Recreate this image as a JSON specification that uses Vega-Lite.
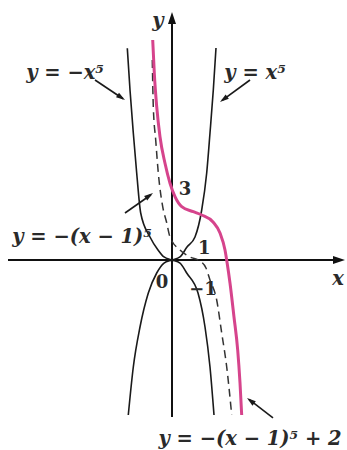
{
  "$schema": "https://vega.github.io/schema/vega-lite/v6.json",
  "width": 347,
  "height": 450,
  "padding": 0,
  "autosize": {"type": "fit", "contains": "padding"},
  "background": "white",
  "config": {"view": {"stroke": null}},
  "datasets": {
    "curves": [
      {"s": "p", "x": -1.561, "y": -6.652}, {"s": "p", "x": -1.382, "y": -4.592}, {"s": "p", "x": -1.143, "y": -2.876},
      {"s": "p", "x": -0.846, "y": -1.416}, {"s": "p", "x": -0.546, "y": -0.558}, {"s": "p", "x": -0.286, "y": -0.13},
      {"s": "p", "x": 0, "y": 0}, {"s": "p", "x": 0.286, "y": 0.13}, {"s": "p", "x": 0.536, "y": 0.558},
      {"s": "p", "x": 0.821, "y": 0.987}, {"s": "p", "x": 1.061, "y": 2.146}, {"s": "p", "x": 1.239, "y": 3.734},
      {"s": "p", "x": 1.357, "y": 5.451}, {"s": "p", "x": 1.475, "y": 7.296}, {"s": "p", "x": 1.571, "y": 9.099},
      {"s": "n", "x": -1.596, "y": 9.086}, {"s": "n", "x": -1.5, "y": 7.296}, {"s": "n", "x": -1.382, "y": 5.451},
      {"s": "n", "x": -1.261, "y": 3.734}, {"s": "n", "x": -1.118, "y": 2.017}, {"s": "n", "x": -0.786, "y": 0.987},
      {"s": "n", "x": -0.5, "y": 0.43}, {"s": "n", "x": -0.286, "y": 0.13}, {"s": "n", "x": 0, "y": 0},
      {"s": "n", "x": 0.286, "y": -0.13}, {"s": "n", "x": 0.525, "y": -0.558}, {"s": "n", "x": 0.929, "y": -1.416},
      {"s": "n", "x": 1.179, "y": -2.876}, {"s": "n", "x": 1.357, "y": -4.592}, {"s": "n", "x": 1.5, "y": -6.652},
      {"s": "d", "x": -0.704, "y": 8.584}, {"s": "d", "x": -0.668, "y": 6.579}, {"s": "d", "x": -0.582, "y": 5.15},
      {"s": "d", "x": -0.489, "y": 3.734}, {"s": "d", "x": -0.332, "y": 2.288}, {"s": "d", "x": -0.196, "y": 1.631},
      {"s": "d", "x": -0.071, "y": 0.987}, {"s": "d", "x": 0.286, "y": 0.429}, {"s": "d", "x": 0.643, "y": 0.129},
      {"s": "d", "x": 1.0, "y": -0.043}, {"s": "d", "x": 1.214, "y": -0.343}, {"s": "d", "x": 1.357, "y": -0.858},
      {"s": "d", "x": 1.596, "y": -1.717}, {"s": "d", "x": 1.775, "y": -3.133}, {"s": "d", "x": 1.954, "y": -4.592},
      {"s": "d", "x": 2.132, "y": -6.652},
      {"s": "k", "x": -0.689, "y": 9.442}, {"s": "k", "x": -0.632, "y": 8.013}, {"s": "k", "x": -0.546, "y": 6.579},
      {"s": "k", "x": -0.429, "y": 5.292}, {"s": "k", "x": -0.25, "y": 4.15}, {"s": "k", "x": -0.071, "y": 3.292},
      {"s": "k", "x": 0.107, "y": 2.717}, {"s": "k", "x": 0.346, "y": 2.288}, {"s": "k", "x": 0.761, "y": 2.073},
      {"s": "k", "x": 1.061, "y": 1.931}, {"s": "k", "x": 1.464, "y": 1.631}, {"s": "k", "x": 1.714, "y": 1.159},
      {"s": "k", "x": 1.893, "y": 0.429}, {"s": "k", "x": 1.964, "y": -0.086}, {"s": "k", "x": 2.071, "y": -0.987},
      {"s": "k", "x": 2.214, "y": -2.446}, {"s": "k", "x": 2.346, "y": -3.863}, {"s": "k", "x": 2.429, "y": -5.279},
      {"s": "k", "x": 2.489, "y": -6.652}
    ],
    "rules": [
      {"id": "xaxis", "x": -5.857, "y": 0, "x2": 5.9, "y2": 0},
      {"id": "yaxis", "x": 0, "y": -6.738, "x2": 0, "y2": 10.2},
      {"id": "a1", "x": -2.75, "y": 7.725, "x2": -1.75, "y2": 6.92},
      {"id": "a2", "x": 2.786, "y": 7.725, "x2": 1.79, "y2": 6.85},
      {"id": "a3", "x": -1.679, "y": 2.017, "x2": -0.75, "y2": 2.8},
      {"id": "a4", "x": 3.607, "y": -6.781, "x2": 2.75, "y2": -5.98}
    ],
    "heads": [
      {"id": "xaxis", "x": 6.179, "y": 0},
      {"id": "yaxis", "x": 0, "y": 10.644},
      {"id": "a1", "x": -1.679, "y": 6.867},
      {"id": "a2", "x": 1.714, "y": 6.781},
      {"id": "a3", "x": -0.679, "y": 2.876},
      {"id": "a4", "x": 2.679, "y": -5.923}
    ],
    "eqs": [
      {"t": "y = −x⁵", "x": -3.821, "y": 7.768},
      {"t": "y = x⁵", "x": 2.964, "y": 7.768},
      {"t": "y = −(x − 1)⁵", "x": -3.214, "y": 0.73},
      {"t": "y = −(x − 1)⁵ + 2", "x": 2.786, "y": -7.94},
      {"t": "y", "x": -0.5, "y": 10.0},
      {"t": "x", "x": 5.93, "y": -1.07}
    ],
    "nums": [
      {"t": "3", "x": 0.464, "y": 2.79},
      {"t": "1", "x": 1.15, "y": 0.258},
      {"t": "0", "x": -0.357, "y": -1.2},
      {"t": "−1", "x": 1.107, "y": -1.5}
    ]
  },
  "layer": [
    {
      "data": {"name": "rules"},
      "transform": [{"filter": "datum.id == 'xaxis' || datum.id == 'yaxis'"}],
      "mark": {"type": "rule", "color": "#111111", "strokeWidth": 2},
      "encoding": {
        "x": {"field": "x", "type": "quantitative", "scale": {"domain": [-6.143, 6.25], "nice": false, "zero": false}, "axis": null},
        "y": {"field": "y", "type": "quantitative", "scale": {"domain": [-8.155, 11.159], "nice": false, "zero": false}, "axis": null},
        "x2": {"field": "x2"},
        "y2": {"field": "y2"}
      }
    },
    {
      "data": {"name": "rules"},
      "transform": [{"filter": "datum.id != 'xaxis' && datum.id != 'yaxis'"}],
      "mark": {"type": "rule", "color": "#1a1a1a", "strokeWidth": 1.6},
      "encoding": {
        "x": {"field": "x", "type": "quantitative"},
        "y": {"field": "y", "type": "quantitative"},
        "x2": {"field": "x2"},
        "y2": {"field": "y2"}
      }
    },
    {
      "data": {"name": "curves"},
      "transform": [{"filter": "datum.s == 'p' || datum.s == 'n'"}],
      "mark": {"type": "line", "color": "#1a1a1a", "strokeWidth": 1.6, "interpolate": "monotone"},
      "encoding": {
        "x": {"field": "x", "type": "quantitative"},
        "y": {"field": "y", "type": "quantitative"},
        "detail": {"field": "s"}
      }
    },
    {
      "data": {"name": "curves"},
      "transform": [{"filter": "datum.s == 'd'"}],
      "mark": {"type": "line", "color": "#333333", "strokeWidth": 1.5, "strokeDash": [8, 5], "interpolate": "monotone"},
      "encoding": {
        "x": {"field": "x", "type": "quantitative"},
        "y": {"field": "y", "type": "quantitative"}
      }
    },
    {
      "data": {"name": "curves"},
      "transform": [{"filter": "datum.s == 'k'"}],
      "mark": {"type": "line", "color": "#d6448c", "strokeWidth": 3, "interpolate": "monotone"},
      "encoding": {
        "x": {"field": "x", "type": "quantitative"},
        "y": {"field": "y", "type": "quantitative"}
      }
    },
    {
      "data": {"name": "heads"},
      "transform": [{"filter": "datum.id == 'xaxis'"}],
      "mark": {"type": "point", "shape": "M0,0L0.6,1.8L-0.6,1.8Z", "filled": true, "color": "#111111", "opacity": 1, "size": 178, "angle": 90},
      "encoding": {"x": {"field": "x", "type": "quantitative"}, "y": {"field": "y", "type": "quantitative"}}
    },
    {
      "data": {"name": "heads"},
      "transform": [{"filter": "datum.id == 'yaxis'"}],
      "mark": {"type": "point", "shape": "M0,0L0.6,1.8L-0.6,1.8Z", "filled": true, "color": "#111111", "opacity": 1, "size": 178, "angle": 0},
      "encoding": {"x": {"field": "x", "type": "quantitative"}, "y": {"field": "y", "type": "quantitative"}}
    },
    {
      "data": {"name": "heads"},
      "transform": [{"filter": "datum.id == 'a1'"}],
      "mark": {"type": "point", "shape": "M0,0L0.6,2L-0.6,2Z", "filled": true, "color": "#1a1a1a", "opacity": 1, "size": 81, "angle": 123.7},
      "encoding": {"x": {"field": "x", "type": "quantitative"}, "y": {"field": "y", "type": "quantitative"}}
    },
    {
      "data": {"name": "heads"},
      "transform": [{"filter": "datum.id == 'a2'"}],
      "mark": {"type": "point", "shape": "M0,0L0.6,2L-0.6,2Z", "filled": true, "color": "#1a1a1a", "opacity": 1, "size": 81, "angle": 233.7},
      "encoding": {"x": {"field": "x", "type": "quantitative"}, "y": {"field": "y", "type": "quantitative"}}
    },
    {
      "data": {"name": "heads"},
      "transform": [{"filter": "datum.id == 'a3'"}],
      "mark": {"type": "point", "shape": "M0,0L0.6,2L-0.6,2Z", "filled": true, "color": "#1a1a1a", "opacity": 1, "size": 81, "angle": 54.5},
      "encoding": {"x": {"field": "x", "type": "quantitative"}, "y": {"field": "y", "type": "quantitative"}}
    },
    {
      "data": {"name": "heads"},
      "transform": [{"filter": "datum.id == 'a4'"}],
      "mark": {"type": "point", "shape": "M0,0L0.6,2L-0.6,2Z", "filled": true, "color": "#1a1a1a", "opacity": 1, "size": 81, "angle": 307.6},
      "encoding": {"x": {"field": "x", "type": "quantitative"}, "y": {"field": "y", "type": "quantitative"}}
    },
    {
      "data": {"name": "eqs"},
      "mark": {"type": "text", "font": "DejaVu Serif", "fontSize": 19.5, "fontWeight": "bold", "fontStyle": "italic", "color": "#2a2a2a", "align": "center", "baseline": "alphabetic"},
      "encoding": {"x": {"field": "x", "type": "quantitative"}, "y": {"field": "y", "type": "quantitative"}, "text": {"field": "t"}}
    },
    {
      "data": {"name": "nums"},
      "mark": {"type": "text", "font": "DejaVu Serif", "fontSize": 18, "fontWeight": "bold", "color": "#2a2a2a", "align": "center", "baseline": "alphabetic"},
      "encoding": {"x": {"field": "x", "type": "quantitative"}, "y": {"field": "y", "type": "quantitative"}, "text": {"field": "t"}}
    }
  ]
}
